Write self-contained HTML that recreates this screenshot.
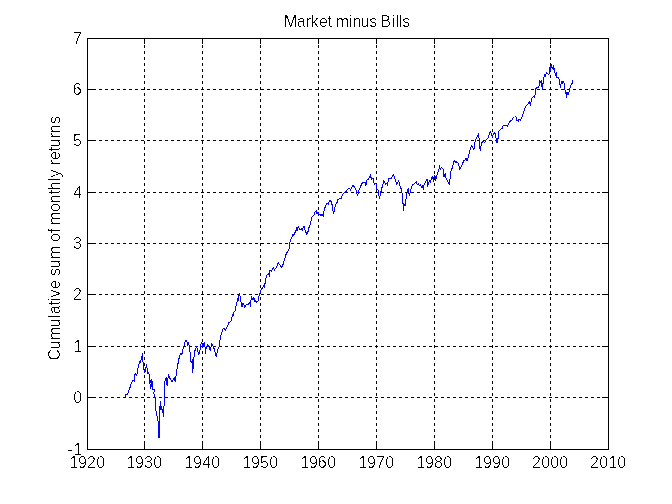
<!DOCTYPE html>
<html lang="en">
<head>
<meta charset="utf-8">
<title>Market minus Bills</title>
<style>
html,body{margin:0;padding:0;background:#fff;width:672px;height:504px;overflow:hidden}
svg{display:block}
text{font-family:"Liberation Sans",Arial,Helvetica,sans-serif;font-size:16.8px;fill:#000}
.grid line{stroke:#000;stroke-width:1;stroke-dasharray:3 3;shape-rendering:crispEdges}
.ticks line,.box{stroke:#000;stroke-width:1;fill:none;shape-rendering:crispEdges}
.curve{fill:none;stroke:#0000ff;stroke-width:1;stroke-linejoin:round;shape-rendering:crispEdges}
</style>
</head>
<body>
<svg width="672" height="504" viewBox="0 0 672 504">
<defs>
<filter id="crisp" x="0" y="0" width="672" height="504" filterUnits="userSpaceOnUse" color-interpolation-filters="sRGB">
<feComponentTransfer><feFuncA type="discrete" tableValues="0 0 1"/></feComponentTransfer>
</filter>
</defs>
<rect x="0" y="0" width="672" height="504" fill="#ffffff"/>
<g class="grid">
<line x1="144.5" y1="450" x2="144.5" y2="38"/>
<line x1="202.5" y1="450" x2="202.5" y2="38"/>
<line x1="260.5" y1="450" x2="260.5" y2="38"/>
<line x1="318.5" y1="450" x2="318.5" y2="38"/>
<line x1="376.5" y1="450" x2="376.5" y2="38"/>
<line x1="434.5" y1="450" x2="434.5" y2="38"/>
<line x1="492.5" y1="450" x2="492.5" y2="38"/>
<line x1="550.5" y1="450" x2="550.5" y2="38"/>
<line x1="87" y1="89.5" x2="609" y2="89.5"/>
<line x1="87" y1="140.5" x2="609" y2="140.5"/>
<line x1="87" y1="192.5" x2="609" y2="192.5"/>
<line x1="87" y1="243.5" x2="609" y2="243.5"/>
<line x1="87" y1="294.5" x2="609" y2="294.5"/>
<line x1="87" y1="346.5" x2="609" y2="346.5"/>
<line x1="87" y1="397.5" x2="609" y2="397.5"/>
</g>
<g class="ticks">
<line x1="144.5" y1="38" x2="144.5" y2="44"/>
<line x1="144.5" y1="450" x2="144.5" y2="443"/>
<line x1="202.5" y1="38" x2="202.5" y2="44"/>
<line x1="202.5" y1="450" x2="202.5" y2="443"/>
<line x1="260.5" y1="38" x2="260.5" y2="44"/>
<line x1="260.5" y1="450" x2="260.5" y2="443"/>
<line x1="318.5" y1="38" x2="318.5" y2="44"/>
<line x1="318.5" y1="450" x2="318.5" y2="443"/>
<line x1="376.5" y1="38" x2="376.5" y2="44"/>
<line x1="376.5" y1="450" x2="376.5" y2="443"/>
<line x1="434.5" y1="38" x2="434.5" y2="44"/>
<line x1="434.5" y1="450" x2="434.5" y2="443"/>
<line x1="492.5" y1="38" x2="492.5" y2="44"/>
<line x1="492.5" y1="450" x2="492.5" y2="443"/>
<line x1="550.5" y1="38" x2="550.5" y2="44"/>
<line x1="550.5" y1="450" x2="550.5" y2="443"/>
<line x1="87" y1="89.5" x2="93" y2="89.5"/>
<line x1="609" y1="89.5" x2="602" y2="89.5"/>
<line x1="87" y1="140.5" x2="93" y2="140.5"/>
<line x1="609" y1="140.5" x2="602" y2="140.5"/>
<line x1="87" y1="192.5" x2="93" y2="192.5"/>
<line x1="609" y1="192.5" x2="602" y2="192.5"/>
<line x1="87" y1="243.5" x2="93" y2="243.5"/>
<line x1="609" y1="243.5" x2="602" y2="243.5"/>
<line x1="87" y1="294.5" x2="93" y2="294.5"/>
<line x1="609" y1="294.5" x2="602" y2="294.5"/>
<line x1="87" y1="346.5" x2="93" y2="346.5"/>
<line x1="609" y1="346.5" x2="602" y2="346.5"/>
<line x1="87" y1="397.5" x2="93" y2="397.5"/>
<line x1="609" y1="397.5" x2="602" y2="397.5"/>
</g>
<rect class="box" x="87.5" y="38.5" width="521" height="411"/>
<polyline class="curve" points="125.3,397.0 125.6,394.5 127.4,394.1 128.5,391.6 129.6,388.8 130.6,385.6 131.4,382.7 132.8,380.6 134.6,381.3 134.2,375.6 135.3,373.4 136.7,375.9 137.4,372.0 137.1,371.4 138.6,366.2 139.5,361.4 140.5,362.9 141.4,358.1 142.6,353.3 143.3,368.6 145.0,372.4 146.5,364.3 147.6,373.3 148.6,372.4 149.5,375.2 149.6,374.9 149.6,383.4 151.4,379.1 150.6,388.4 152.4,381.3 152.8,389.9 154.2,389.1 153.9,394.1 154.9,397.0 155.6,397.7 155.4,397.9 155.4,409.8 156.7,413.1 157.6,420.8 158.1,421.2 158.6,437.0 159.2,437.4 159.5,411.2 160.5,401.2 161.0,410.3 161.7,406.5 162.4,412.2 162.9,409.3 163.3,416.5 163.8,406.0 164.6,405.5 164.8,396.0 164.8,381.9 166.2,377.6 167.1,385.7 167.6,380.0 168.6,374.3 169.5,377.6 171.9,381.9 172.9,380.0 174.3,377.1 175.2,381.9 176.2,375.2 177.1,368.6 178.3,361.9 179.5,356.2 181.0,353.3 181.9,354.8 182.9,349.5 184.0,345.7 184.6,342.3 186.0,340.4 187.0,342.3 187.4,345.1 188.4,342.8 189.3,346.1 190.3,354.7 190.8,361.3 191.7,362.3 192.7,359.4 192.7,372.3 193.6,361.3 194.6,350.9 195.5,349.9 196.5,346.6 197.4,348.5 198.4,354.7 199.8,351.8 201.2,343.2 201.9,342.3 202.7,347.0 204.1,342.3 205.0,347.0 205.5,353.7 206.0,348.5 207.4,344.7 208.9,347.0 210.3,350.4 211.7,343.2 213.1,346.6 214.6,349.9 215.5,354.7 216.5,356.6 217.4,350.9 219.3,346.1 220.3,337.5 221.7,332.8 222.5,331.6 223.0,328.8 224.4,328.3 225.3,330.7 226.3,328.3 227.7,325.9 228.7,322.6 230.1,322.1 231.0,321.1 232.0,317.3 232.5,314.5 233.4,315.4 233.9,312.1 234.9,311.6 235.8,306.9 236.8,303.0 237.5,298.3 238.2,301.1 238.7,296.4 239.6,294.0 240.6,298.3 241.5,306.4 242.5,306.9 243.0,303.0 244.9,307.3 245.8,305.4 246.8,304.0 248.2,304.5 249.6,302.1 250.6,306.4 251.0,300.2 251.5,296.4 253.0,300.2 253.9,297.8 254.9,301.6 255.8,300.2 256.8,302.6 258.2,300.7 258.7,297.3 259.6,294.5 260.6,290.7 262.5,287.8 263.9,285.0 264.4,287.3 264.9,284.0 265.8,280.2 266.3,275.4 267.7,274.5 268.7,273.0 269.3,276.4 269.6,271.1 270.6,270.2 271.5,271.6 272.5,268.3 273.4,267.3 274.4,270.2 275.3,268.3 276.8,267.3 277.2,264.5 278.5,263.0 279.6,264.5 280.6,266.4 282.0,267.3 283.0,264.5 283.9,261.6 284.9,258.8 285.5,255.4 286.8,253.0 288.2,250.7 289.5,247.6 289.7,243.8 290.5,240.0 291.9,238.1 292.4,234.3 293.8,235.2 294.8,232.4 295.7,231.9 296.7,227.6 297.1,230.5 298.1,226.7 299.0,228.1 300.0,230.0 301.4,228.6 302.4,230.5 303.3,227.1 304.3,226.7 305.2,230.5 306.2,232.9 306.7,234.3 308.1,231.4 309.0,227.6 310.5,223.3 311.4,219.0 312.4,216.2 313.8,215.2 314.8,212.4 316.2,210.5 317.1,213.8 318.1,211.9 319.0,214.8 320.5,214.3 321.0,216.2 321.9,214.3 323.3,216.2 324.3,208.6 325.2,207.1 326.2,204.3 327.1,203.3 328.1,204.3 329.5,201.0 330.5,200.5 331.4,202.4 332.1,204.7 332.6,209.0 333.5,213.2 334.5,209.9 335.4,204.7 336.9,202.8 337.8,199.9 339.2,199.0 340.2,198.0 341.1,198.5 342.1,196.1 343.0,194.2 344.5,192.8 346.4,191.3 347.3,189.4 348.8,188.5 349.7,188.5 350.7,190.4 351.6,187.5 353.0,185.6 354.5,186.6 355.4,188.5 356.4,190.9 357.3,195.1 358.3,193.2 359.2,189.4 360.2,187.5 361.6,184.2 362.6,182.8 364.0,182.8 365.0,181.8 365.9,185.6 366.4,181.3 367.3,179.9 368.3,179.4 369.2,177.5 370.5,174.7 371.1,178.0 371.6,179.9 373.0,178.0 373.5,180.4 374.5,184.7 375.9,183.2 376.9,189.9 377.8,189.0 378.8,194.7 379.4,199.0 381.0,191.6 381.9,187.8 382.9,184.5 383.8,180.7 384.8,182.1 385.7,184.5 386.7,183.5 387.6,185.4 388.4,178.8 389.5,178.3 391.0,179.2 391.9,177.3 393.3,174.5 394.3,176.9 395.2,179.7 396.2,182.6 396.7,184.5 397.6,182.6 398.6,180.7 399.5,184.5 400.5,186.9 401.4,189.7 402.4,195.0 402.9,202.1 403.3,210.2 403.8,203.5 405.2,205.9 405.7,201.1 406.7,195.4 407.6,189.7 408.4,188.3 408.6,192.6 409.5,195.4 410.5,191.6 411.4,187.8 412.4,185.0 413.8,184.5 414.8,183.5 416.2,181.6 417.1,184.5 418.6,184.0 419.5,185.9 420.5,185.0 421.4,187.3 422.4,185.4 423.3,189.2 424.3,184.0 425.7,181.6 426.7,179.2 427.6,179.7 427.1,186.4 428.6,183.5 429.5,180.7 430.5,182.1 431.4,179.2 432.4,176.4 433.3,179.7 433.5,181.3 434.2,174.9 435.3,176.3 435.6,180.9 436.4,177.0 437.4,173.1 438.5,170.6 439.2,168.4 439.4,165.2 439.9,167.4 440.6,169.1 441.4,167.4 442.4,168.4 443.5,169.5 443.5,174.9 444.2,177.0 445.1,173.4 445.6,176.6 446.7,179.5 447.8,181.3 448.9,183.4 449.4,184.5 449.6,179.1 450.6,178.4 450.6,171.6 451.7,169.5 452.8,166.3 453.5,161.3 454.6,160.2 455.3,162.4 456.4,161.6 457.1,163.1 457.8,162.7 458.9,165.2 459.6,169.1 461.2,166.4 462.7,163.5 463.6,160.7 465.0,160.2 466.0,158.3 467.0,161.1 467.9,158.8 468.9,154.5 469.8,151.1 470.8,147.3 471.7,145.4 472.7,147.3 473.6,149.7 474.6,146.9 475.2,139.7 476.5,138.3 477.4,136.4 478.4,133.5 479.3,140.7 479.8,146.9 480.3,150.7 481.2,144.5 482.2,142.1 483.6,141.6 484.6,143.0 485.5,141.1 487.0,138.8 488.4,137.3 489.3,133.5 490.3,131.6 491.2,133.0 492.2,136.4 493.1,135.0 494.1,132.6 495.0,133.5 496.0,138.3 497.0,143.0 497.9,139.2 498.9,133.5 499.0,130.9 500.4,129.4 502.3,128.5 503.2,125.6 505.1,125.1 506.6,125.6 507.5,126.6 508.5,123.7 509.9,121.3 511.8,120.4 513.2,118.0 514.5,117.5 515.4,116.1 516.6,118.5 517.0,120.4 518.5,121.3 519.0,119.0 520.4,120.4 521.3,118.5 522.3,116.6 523.2,112.8 524.2,110.4 525.1,107.5 526.1,106.1 527.5,104.7 528.5,102.8 529.4,101.8 530.4,105.6 531.3,100.4 532.3,97.5 533.7,96.6 534.7,98.0 534.7,95.0 535.4,94.6 535.6,89.3 536.9,87.0 537.8,87.9 538.8,86.0 539.7,85.5 539.7,80.3 540.7,82.2 541.3,80.3 541.6,84.6 542.3,89.3 542.9,84.6 543.5,78.9 544.5,74.6 545.1,76.5 546.4,72.7 547.8,73.6 548.6,75.0 549.2,73.1 549.5,68.4 550.5,66.5 550.7,70.8 551.4,64.6 552.4,68.4 553.5,65.5 554.3,71.7 554.7,68.4 555.0,72.7 555.9,75.5 556.6,72.7 556.9,77.9 558.3,77.4 559.2,79.3 559.7,84.1 560.7,87.4 561.3,81.7 562.1,83.6 563.0,81.2 564.0,82.7 564.5,84.6 565.0,90.3 565.9,92.7 566.4,97.4 567.0,91.7 567.8,95.0 568.8,93.1 569.5,89.3 570.7,86.0 571.6,84.1 572.6,82.7 572.8,80.3"/>
<g filter="url(#crisp)">
<g class="xlabels">
<text transform="translate(0,468) scale(0.95238,1)" x="73.106 82.031 91.481 101.194">1920</text>
<text transform="translate(0,468) scale(0.95238,1)" x="132.956 141.881 151.331 161.044">1930</text>
<text transform="translate(0,468) scale(0.95238,1)" x="193.856 202.781 212.494 221.944">1940</text>
<text transform="translate(0,468) scale(0.95238,1)" x="254.756 263.681 273.131 282.844">1950</text>
<text transform="translate(0,468) scale(0.95238,1)" x="315.656 324.581 333.769 343.744">1960</text>
<text transform="translate(0,468) scale(0.95238,1)" x="376.556 385.481 394.931 404.644">1970</text>
<text transform="translate(0,468) scale(0.95238,1)" x="437.456 446.381 455.831 465.544">1980</text>
<text transform="translate(0,468) scale(0.95238,1)" x="498.356 507.281 516.731 526.444">1990</text>
<text transform="translate(0,468) scale(0.95238,1)" x="558.731 568.444 577.894 587.344">2000</text>
<text transform="translate(0,468) scale(0.95238,1)" x="619.631 629.344 639.056 648.244">2010</text>
</g>
<g class="ylabels">
<text transform="translate(0,44) scale(0.95238,1)" x="76.781">7</text>
<text transform="translate(0,95) scale(0.95238,1)" x="76.519">6</text>
<text transform="translate(0,146) scale(0.95238,1)" x="76.781">5</text>
<text transform="translate(0,198) scale(0.95238,1)" x="77.044">4</text>
<text transform="translate(0,249) scale(0.95238,1)" x="76.781">3</text>
<text transform="translate(0,300) scale(0.95238,1)" x="76.781">2</text>
<text transform="translate(0,352) scale(0.95238,1)" x="77.306">1</text>
<text transform="translate(0,403) scale(0.95238,1)" x="77.044">0</text>
<text transform="translate(0,455) scale(0.95238,1)" x="70.744 77.306">-1</text>
</g>
<text transform="translate(0,27) scale(0.95238,1)" x="298.331 311.719 321.169 326.156 335.081 344.006 348.469 352.669 366.581 370.256 378.656 387.844 395.194 399.394 411.731 415.931 419.081 422.494">Market minus Bills</text>
<text transform="translate(60,360) rotate(-90) scale(0.95238,1)" x="-0.656 11.156 20.869 34.256 44.231 48.169 57.356 62.081 65.756 74.681 84.131 88.331 96.206 105.919 119.831 124.031 133.481 137.419 141.619 155.531 164.719 173.906 178.106 188.081 191.756 200.419 204.619 210.131 219.056 223.256 232.969 238.219 247.931">Cumulative sum of monthly returns</text>
</g>
</svg>
</body>
</html>
